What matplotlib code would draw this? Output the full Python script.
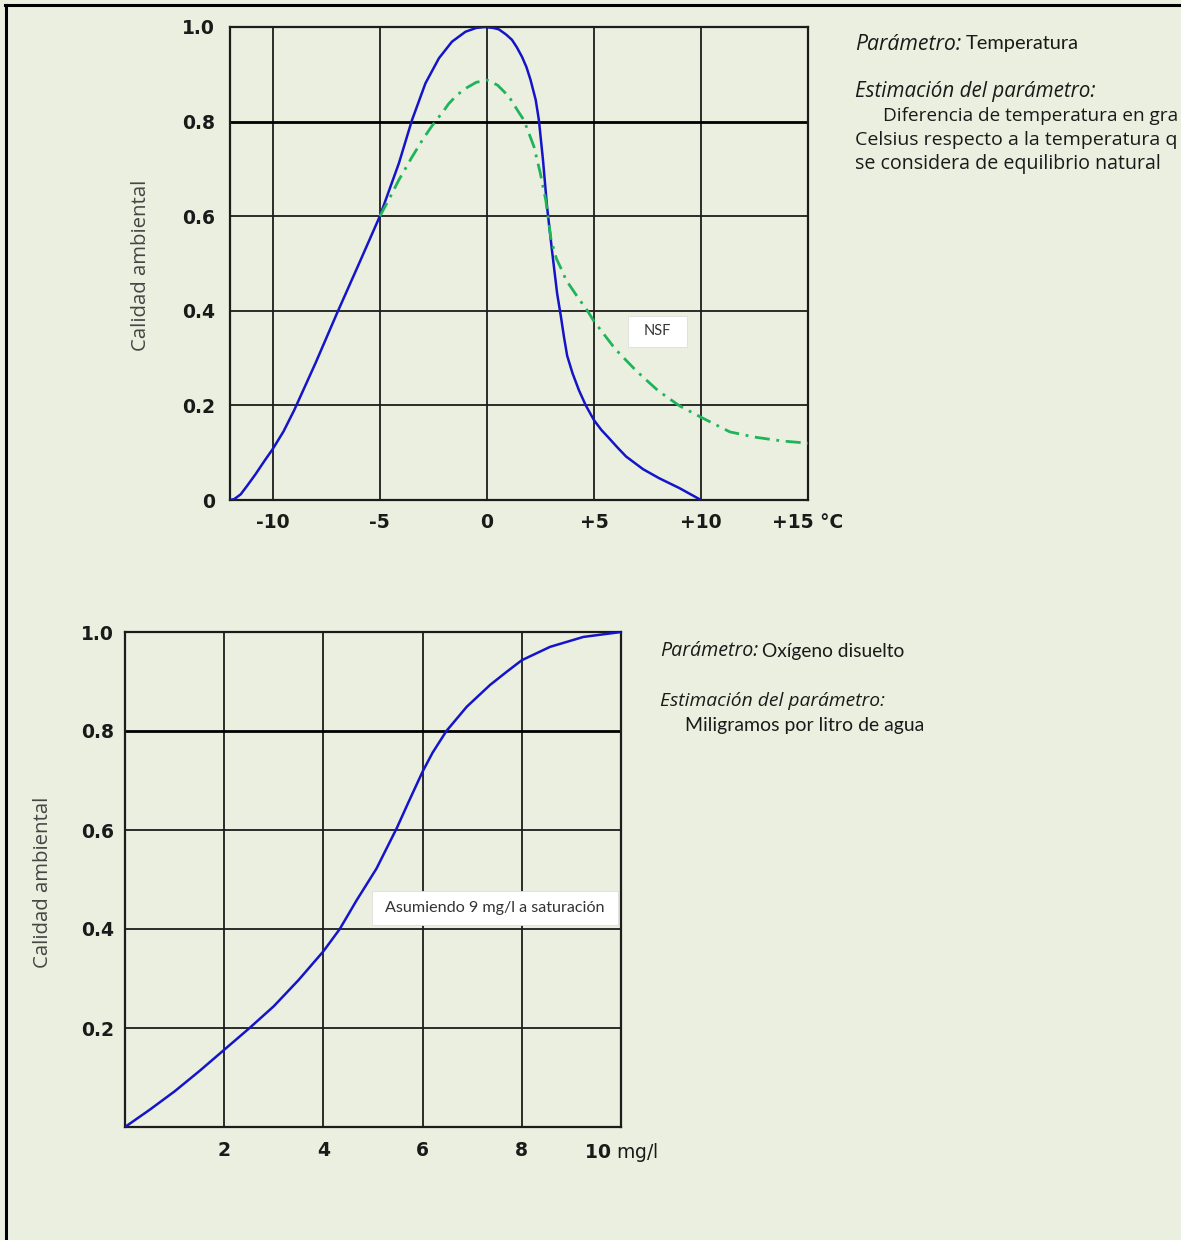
import matplotlib
matplotlib.use("Agg")
import matplotlib.pyplot as plt
from matplotlib.lines import Line2D
from matplotlib.patches import Rectangle

# ---------------- data ----------------
# Temperature: difference in °C vs. environmental quality
temp_x = [-12.0, -11.8, -11.5, -11.2, -10.8, -10.4, -10.0, -9.5, -9.0, -8.0, -7.0, -6.0,
          -5.0, -4.5, -4.11, -3.5, -2.87, -2.24, -1.63, -1.0, -0.5, -0.1, 0.3, 0.56, 0.9,
          1.17, 1.4, 1.64, 1.85, 2.04, 2.28, 2.43, 2.62, 2.81, 3.04, 3.28, 3.45, 3.6,
          3.75, 4.0, 4.3, 4.62, 5.0, 5.35, 5.7, 6.1, 6.5, 7.3, 8.05, 9.0, 10.0]
temp_q = [0.0, 0.002, 0.012, 0.03, 0.055, 0.082, 0.108, 0.145, 0.19, 0.29, 0.395, 0.497,
          0.60, 0.663, 0.712, 0.803, 0.881, 0.934, 0.969, 0.99, 0.998, 1.0, 0.998, 0.995,
          0.984, 0.973, 0.957, 0.937, 0.915, 0.888, 0.846, 0.803, 0.719, 0.62, 0.528,
          0.437, 0.39, 0.345, 0.305, 0.268, 0.232, 0.20, 0.169, 0.148, 0.131, 0.111,
          0.092, 0.065, 0.046, 0.025, 0.0]

# NSF temperature curve
nsf_x = [-5.0, -4.5, -4.12, -3.5, -3.0, -2.58, -2.0, -1.78, -1.4, -1.0, -0.5, 0.0, 0.5,
         1.03, 1.4, 1.73, 2.2, 2.5, 2.75, 2.85, 3.0, 3.25, 3.5, 3.7, 4.3, 4.67, 5.0, 6.0,
         7.0, 8.0, 9.0, 10.0, 11.35, 12.5, 13.75, 15.0]
nsf_q = [0.60, 0.642, 0.676, 0.725, 0.762, 0.79, 0.824, 0.838, 0.856, 0.87, 0.883, 0.888,
         0.877, 0.853, 0.826, 0.803, 0.747, 0.69, 0.634, 0.60, 0.55, 0.51, 0.486, 0.465,
         0.425, 0.402, 0.378, 0.319, 0.272, 0.231, 0.199, 0.175, 0.144, 0.133, 0.125,
         0.12]

temp_ticks = [-10, -5, 0, 5, 10, 15]
temp_ticklabels = ["-10", "-5", "0", "+5", "+10", "+15 °C"]
temp_yticks = [0.0, 0.2, 0.4, 0.6, 0.8, 1.0]
temp_yticklabels = ["0", "0.2", "0.4", "0.6", "0.8", "1.0"]

# Dissolved oxygen (mg/l) vs. environmental quality
oxy_x = [0.0, 0.5, 1.0, 1.5, 2.0, 2.5, 3.0, 3.5, 4.0, 4.33, 4.67, 5.07, 5.48, 5.71, 6.0,
         6.2, 6.48, 6.89, 7.36, 7.7, 8.0, 8.57, 9.24, 10.0]
oxy_q = [0.0, 0.035, 0.072, 0.113, 0.156, 0.199, 0.244, 0.297, 0.355, 0.4, 0.458, 0.522,
         0.604, 0.655, 0.718, 0.756, 0.8, 0.849, 0.893, 0.92, 0.943, 0.97, 0.99, 1.0]

oxy_ticks = [2, 4, 6, 8, 10]
oxy_ticklabels = ["2", "4", "6", "8", r"$\mathbf{10}$ mg/l"]
oxy_yticks = [0.2, 0.4, 0.6, 0.8, 1.0]
oxy_yticklabels = ["0.2", "0.4", "0.6", "0.8", "1.0"]

# ---------------- style ----------------
BG = "#EBEFDF"
BLUE = "#1414C8"
GREEN = "#1FB45C"
GRID = "#1c1c1c"
INK = "#1a1a1a"
W, H = 1181, 1240
DPI = 100

fig = plt.figure(figsize=(W / DPI, H / DPI), dpi=DPI, facecolor=BG)
renderer = fig.canvas.get_renderer()


def px_box(x0, y0, x1, y1):
    """Axes rectangle from pixel corners (top-left origin)."""
    return [x0 / W, 1 - y1 / H, (x1 - x0) / W, (y1 - y0) / H]


def style_axes(ax, xlim, xticks, xlabels, yticks, ylabels, xpad, ypad):
    ax.set_facecolor(BG)
    ax.set_xlim(*xlim)
    ax.set_ylim(0, 1)
    ax.set_xticks(xticks)
    ax.set_xticklabels(xlabels)
    ax.set_yticks(yticks)
    ax.set_yticklabels(ylabels)
    ax.tick_params(length=0, labelsize=13.5, colors=INK)
    ax.tick_params(axis="x", pad=xpad)
    ax.tick_params(axis="y", pad=ypad)
    for lab in ax.get_xticklabels() + ax.get_yticklabels():
        lab.set_fontweight("bold")
        lab.set_family("DejaVu Sans")
    for s in ax.spines.values():
        s.set_color(GRID)
        s.set_linewidth(1.6)
    ax.grid(True, color=GRID, linewidth=1.3)
    ax.set_axisbelow(True)
    # the 0.8 reference line is drawn heavier
    for t, gl in zip(ax.get_yticks(), ax.get_ygridlines()):
        if abs(t - 0.8) < 1e-9:
            gl.set_linewidth(2.0)
            gl.set_color("#000000")


def boxed_note(ax, xc, yc, text, box_w, box_h, size):
    """White note box (size in pixels) centred on a data point."""
    tr = ax.transData
    cx, cy = tr.transform((xc, yc))
    inv = tr.inverted()
    x0, y0 = inv.transform((cx - box_w / 2, cy - box_h / 2))
    x1, y1 = inv.transform((cx + box_w / 2, cy + box_h / 2))
    ax.add_patch(Rectangle((x0, y0), x1 - x0, y1 - y0, facecolor="white",
                           edgecolor="#dcdcdc", linewidth=0.6, zorder=4))
    ax.text(xc, yc, text, ha="center", va="center", fontsize=size, family="Lato",
            color="#333333", zorder=5)


# ---- temperature chart ----
ax1 = fig.add_axes(px_box(230, 27, 808, 500))
style_axes(ax1, (-12, 15), temp_ticks, temp_ticklabels, temp_yticks, temp_yticklabels,
           xpad=9, ypad=11)
ax1.plot(temp_x, temp_q, color=BLUE, lw=1.8, solid_capstyle="round",
         solid_joinstyle="round", zorder=3)
ax1.plot(nsf_x, nsf_q, color=GREEN, lw=2.0, dashes=(5.4, 2.4, 1.0, 2.4), zorder=3)
boxed_note(ax1, 7.95, 0.357, "NSF", 59, 31, 10.5)

# ---- oxygen chart ----
ax2 = fig.add_axes(px_box(125, 632, 621, 1127))
style_axes(ax2, (0, 10), oxy_ticks, oxy_ticklabels, oxy_yticks, oxy_yticklabels,
           xpad=10, ypad=8)
ax2.get_xticklabels()[-1].set_fontweight("normal")
ax2.plot(oxy_x, oxy_q, color=BLUE, lw=1.8, solid_capstyle="round",
         solid_joinstyle="round", zorder=3)
boxed_note(ax2, 7.46, 0.442, "Asumiendo 9 mg/l a saturación", 246, 34, 11.6)

# ---- axis titles ----
fig.text(141 / W, 1 - 265 / H, "Calidad ambiental", rotation=90, ha="center",
         va="center", fontsize=14.7, family="Open Sans", color="#454545")
fig.text(43 / W, 1 - 882 / H, "Calidad ambiental", rotation=90, ha="center",
         va="center", fontsize=14.7, family="Open Sans", color="#454545")


# ---- side notes ----
def fitted_text(x, y, s, width, family, style="normal"):
    """Left-aligned note whose font size is scaled to span `width` pixels."""
    t = fig.text(x / W, 1 - y / H, s, ha="left", va="center", fontsize=12,
                 family=family, style=style, color=INK)
    w = t.get_window_extent(renderer=renderer).width
    t.set_fontsize(12 * width / w)
    return t


fitted_text(855, 44, "Parámetro:", 106, "Open Sans", "italic")
fitted_text(966, 44, "Temperatura", 113, "Lato")
fitted_text(855, 92, "Estimación del parámetro:", 240, "Open Sans", "italic")
body = fitted_text(855, 164, "se considera de equilibrio natural", 305, "Open Sans")
fs = body.get_fontsize()
# the note column runs up against the right edge of the sheet
fitted_text(883, 116, "Diferencia de temperatura en gra", 294, "Open Sans")
fitted_text(855, 140, "Celsius respecto a la temperatura q", 320, "Open Sans")

fitted_text(660, 651, "Parámetro:", 98, "Open Sans", "italic")
fitted_text(762, 651, "Oxígeno disuelto", 142, "Lato")
fitted_text(660, 701, "Estimación del parámetro:", 225, "Open Sans", "italic")
fitted_text(685, 726, "Miligramos por litro de agua", 238, "Lato")

# ---- frame (left and top edges) ----
fig.add_artist(Line2D([6 / W, 6 / W], [0, 1 - 5 / H], color="black", lw=2.2,
                      transform=fig.transFigure))
fig.add_artist(Line2D([5 / W, 1], [1 - 5 / H, 1 - 5 / H], color="black", lw=2.2,
                      transform=fig.transFigure))

fig.savefig("out.png", dpi=DPI, facecolor=BG)
